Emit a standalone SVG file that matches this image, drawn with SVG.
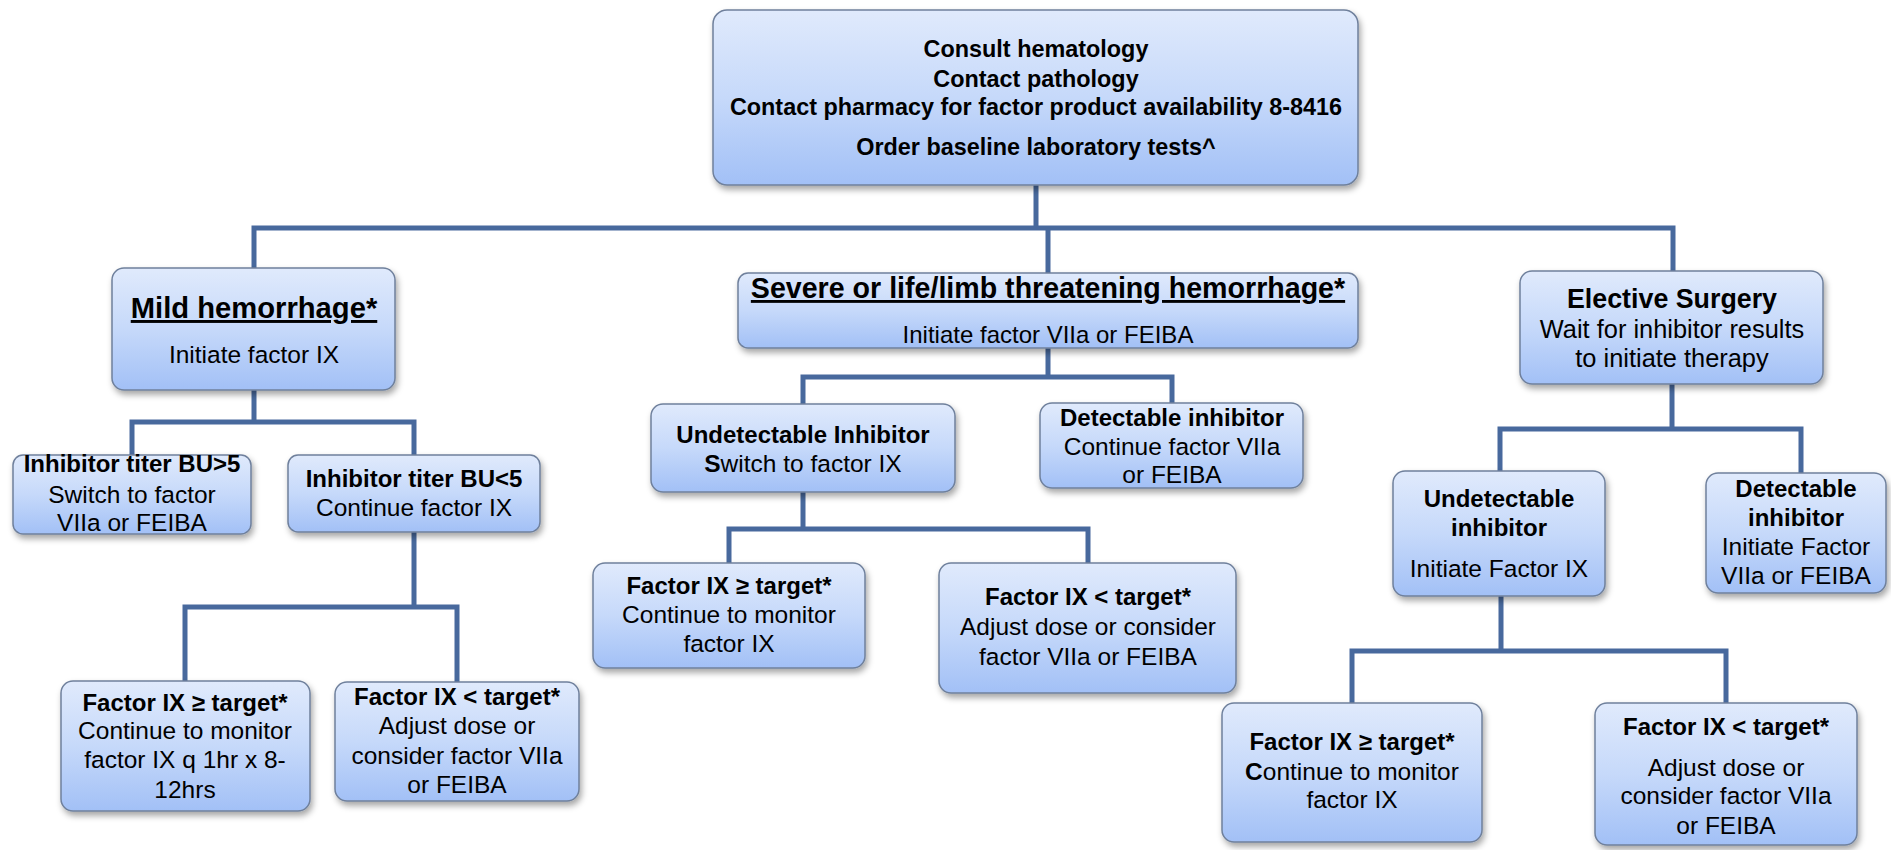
<svg xmlns="http://www.w3.org/2000/svg" width="1891" height="850" viewBox="0 0 1891 850">
<defs>
<linearGradient id="g" x1="0" y1="0" x2="0" y2="1">
<stop offset="0" stop-color="#e0eafc"/>
<stop offset="0.5" stop-color="#c6d9fa"/>
<stop offset="1" stop-color="#a2c0f6"/>
</linearGradient>
<filter id="sh" x="-10%" y="-10%" width="120%" height="130%">
<feDropShadow dx="2" dy="4" stdDeviation="3" flood-color="#000" flood-opacity="0.35"/>
</filter>
</defs>
<style>
.box{fill:url(#g);stroke:#6f809c;stroke-width:1.5;filter:url(#sh)}
text{font-family:"Liberation Sans",Arial,sans-serif;fill:#000;text-anchor:middle}
.b{font-weight:bold;font-size:24px}
.r{font-size:24.5px}
.t{font-weight:bold;font-size:23.4px}
.h{font-weight:bold;font-size:28.8px;text-decoration:underline}
.conn{fill:none;stroke:#48699d;stroke-width:5;stroke-linecap:square}
</style>
<g id="connectors" class="conn">
<path d="M1036 185V228M254 228H1673M254 228V268M1048 228V273M1673 228V271"/>
<path d="M254 390V422M132 422H414M132 422V455M414 422V455"/>
<path d="M414 532V607M185 607H457M185 607V681M457 607V682"/>
<path d="M1048 348V377M803 377H1172M803 377V404M1172 377V403"/>
<path d="M803 492V529M729 529H1088M729 529V563M1088 529V563"/>
<path d="M1672 384V429M1500 429H1801M1500 429V471M1801 429V473"/>
<path d="M1501 596V651M1352 651H1726M1352 651V703M1726 651V703"/>
</g>
<g id="n-top">
<rect class="box" x="713" y="10" width="645" height="175" rx="14"/>
<text class="t" x="1036" y="57">Consult hematology</text>
<text class="t" x="1036" y="87">Contact pathology</text>
<text class="t" x="1036" y="115">Contact pharmacy for factor product availability 8-8416</text>
<text class="t" x="1036" y="155">Order baseline laboratory tests^</text>
</g>
<g id="n-mild">
<rect class="box" x="112" y="268" width="283" height="122" rx="12"/>
<text class="h" x="254" y="318" style="font-size:29.2px">Mild hemorrhage*</text>
<text class="r" x="254" y="363">Initiate factor IX</text>
</g>
<g id="n-severe">
<rect class="box" x="738" y="273" width="620" height="75" rx="10"/>
<text class="h" x="1048" y="298" style="font-size:28.6px">Severe or life/limb threatening hemorrhage*</text>
<text class="r" x="1048" y="343" style="font-size:24px">Initiate factor VIIa or FEIBA</text>
</g>
<g id="n-elective">
<rect class="box" x="1520" y="271" width="303" height="113" rx="12"/>
<text x="1672" y="308" style="font-weight:bold;font-size:26.8px">Elective Surgery</text>
<text class="r" x="1672" y="338" style="font-size:25.4px">Wait for inhibitor results</text>
<text class="r" x="1672" y="367" style="font-size:25.4px">to initiate therapy</text>
</g>
<g id="n-bu-gt5">
<rect class="box" x="13" y="455" width="238" height="79" rx="10"/>
<text class="b" x="132" y="472">Inhibitor titer BU&gt;5</text>
<text class="r" x="132" y="503">Switch to factor</text>
<text class="r" x="132" y="531">VIIa or FEIBA</text>
</g>
<g id="n-bu-lt5">
<rect class="box" x="288" y="455" width="252" height="77" rx="10"/>
<text class="b" x="414" y="487">Inhibitor titer BU&lt;5</text>
<text class="r" x="414" y="516">Continue factor IX</text>
</g>
<g id="n-mild-ge">
<rect class="box" x="61" y="681" width="249" height="130" rx="12"/>
<text class="b" x="185" y="711">Factor IX ≥ target*</text>
<text class="r" x="185" y="739">Continue to monitor</text>
<text class="r" x="185" y="768">factor IX q 1hr x 8-</text>
<text class="r" x="185" y="798">12hrs</text>
</g>
<g id="n-mild-lt">
<rect class="box" x="335" y="682" width="244" height="119" rx="12"/>
<text class="b" x="457" y="705">Factor IX &lt; target*</text>
<text class="r" x="457" y="734">Adjust dose or</text>
<text class="r" x="457" y="764">consider factor VIIa</text>
<text class="r" x="457" y="793">or FEIBA</text>
</g>
<g id="n-sev-undet">
<rect class="box" x="651" y="404" width="304" height="88" rx="12"/>
<text class="b" x="803" y="443">Undetectable Inhibitor</text>
<text class="r" x="803" y="472"><tspan font-weight="bold">S</tspan>witch to factor IX</text>
</g>
<g id="n-sev-det">
<rect class="box" x="1040" y="403" width="263" height="85" rx="12"/>
<text class="b" x="1172" y="426">Detectable inhibitor</text>
<text class="r" x="1172" y="455">Continue factor VIIa</text>
<text class="r" x="1172" y="483">or FEIBA</text>
</g>
<g id="n-sev-ge">
<rect class="box" x="593" y="563" width="272" height="105" rx="12"/>
<text class="b" x="729" y="594">Factor IX ≥ target*</text>
<text class="r" x="729" y="623">Continue to monitor</text>
<text class="r" x="729" y="652">factor IX</text>
</g>
<g id="n-sev-lt">
<rect class="box" x="939" y="563" width="297" height="130" rx="12"/>
<text class="b" x="1088" y="605">Factor IX &lt; target*</text>
<text class="r" x="1088" y="635">Adjust dose or consider</text>
<text class="r" x="1088" y="665">factor VIIa or FEIBA</text>
</g>
<g id="n-el-undet">
<rect class="box" x="1393" y="471" width="212" height="125" rx="12"/>
<text class="b" x="1499" y="507">Undetectable</text>
<text class="b" x="1499" y="536">inhibitor</text>
<text class="r" x="1499" y="577">Initiate Factor IX</text>
</g>
<g id="n-el-det">
<rect class="box" x="1706" y="473" width="180" height="120" rx="12"/>
<text class="b" x="1796" y="497">Detectable</text>
<text class="b" x="1796" y="526">inhibitor</text>
<text class="r" x="1796" y="555">Initiate Factor</text>
<text class="r" x="1796" y="584">VIIa or FEIBA</text>
</g>
<g id="n-el-ge">
<rect class="box" x="1222" y="703" width="260" height="139" rx="12"/>
<text class="b" x="1352" y="750">Factor IX ≥ target*</text>
<text class="r" x="1352" y="780"><tspan font-weight="bold">C</tspan>ontinue to monitor</text>
<text class="r" x="1352" y="808">factor IX</text>
</g>
<g id="n-el-lt">
<rect class="box" x="1595" y="703" width="262" height="142" rx="12"/>
<text class="b" x="1726" y="735">Factor IX &lt; target*</text>
<text class="r" x="1726" y="776">Adjust dose or</text>
<text class="r" x="1726" y="804">consider factor VIIa</text>
<text class="r" x="1726" y="834">or FEIBA</text>
</g>
</svg>
